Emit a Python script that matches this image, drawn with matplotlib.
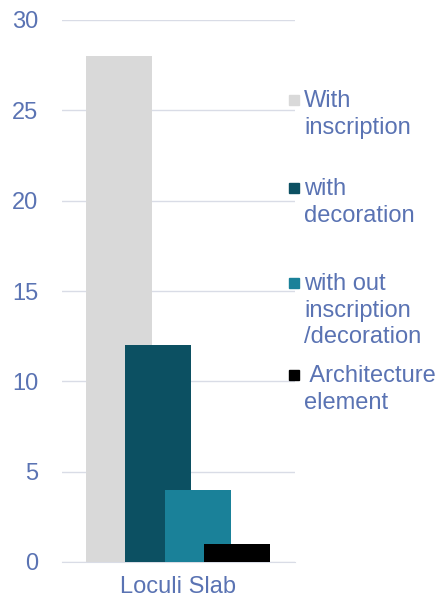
import numpy as np
import matplotlib.pyplot as plt
from matplotlib.patches import Rectangle

plt.rcParams['font.family'] = ['Liberation Sans', 'DejaVu Sans']

# dati
categories = ['Loculi Slab']
series = ['With\ninscription', 'with\ndecoration', 'with out\ninscription\n/decoration', ' Architecture\nelement']
values = [28, 12, 4, 1]
colors = ['#D9D9D9', '#0C5062', '#1A8199', '#000000']
yticks = [0, 5, 10, 15, 20, 25, 30]

text_col = '#5A73B3'
grid_col = '#D9DCE6'

fig = plt.figure(figsize=(4.46, 6.05), dpi=100)
ax = fig.add_axes([62/446, 1-562/605, 233/446, 542/605])

x = np.arange(len(categories))
step = 0.6
for i, (val, col) in enumerate(zip(values, colors)):
    ax.bar(x + (i-1.5)*step, [val], width=1.0, color=col, zorder=2+i)

ax.set_xlim(-1.758, 1.773)
ax.set_ylim(0, 30)
ax.set_yticks(yticks)
ax.set_xticks(x)
ax.set_xticklabels(categories)
ax.tick_params(axis='both', length=0, labelsize=17, colors=text_col)
ax.tick_params(axis='x', pad=10)
ax.tick_params(axis='y', pad=17)
ax.yaxis.grid(True, color=grid_col, linewidth=1, zorder=0)
ax.set_axisbelow(True)
for s in ['top', 'right', 'left']:
    ax.spines[s].set_visible(False)
ax.spines['bottom'].set_color(grid_col)

# legenda fatta a mano
leg_y = [100, 188, 283, 375]
for lab, col, yy in zip(series, colors, leg_y):
    fy = 1 - yy/605
    fig.patches.append(Rectangle((289/446, fy - 5/605), 10/446, 10/605,
                                 transform=fig.transFigure, color=col))
    fig.text(304/446, fy + 10/605, lab, fontsize=17, color=text_col,
             va='top', ha='left', linespacing=1.27)

fig.savefig('out.png', dpi=100)
